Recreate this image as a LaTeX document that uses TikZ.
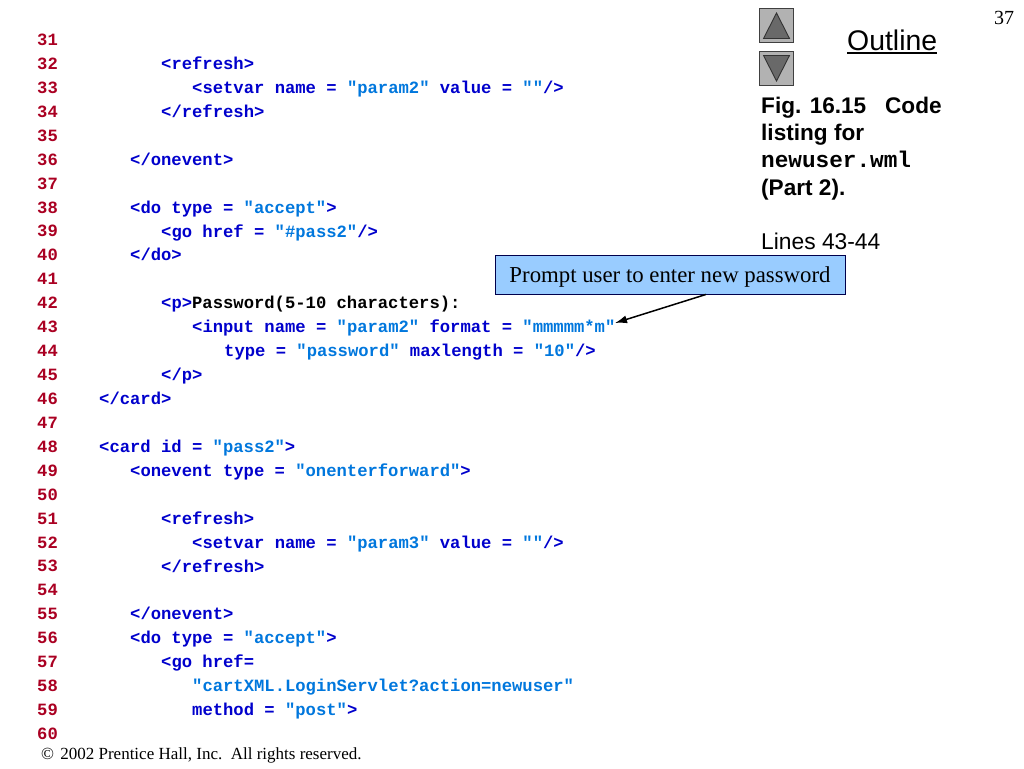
\documentclass[tikz,border=0pt]{standalone}
\usepackage{fontspec}
\setmainfont{Liberation Serif}
\newfontfamily\helv{Liberation Sans}
\newfontfamily\cour{Liberation Mono}
\usetikzlibrary{arrows.meta}
\definecolor{numred}{RGB}{170,0,34}
\definecolor{tagblue}{RGB}{0,0,204}
\definecolor{strblue}{RGB}{0,119,221}
\definecolor{boxblue}{RGB}{153,204,255}
\definecolor{btngray}{RGB}{178,178,178}
\definecolor{tridark}{RGB}{105,105,105}
\newcommand{\Tg}[1]{\textcolor{tagblue}{#1}}
\newcommand{\St}[1]{\textcolor{strblue}{#1}}
\tikzset{
  x=1pt,y=-1pt,
  num/.style={anchor=base west,inner sep=0pt,text=numred,font=\cour\bfseries\fontsize{17.2}{20}\selectfont},
  codetext/.style={anchor=base west,inner sep=0pt,text=black,font=\cour\bfseries\fontsize{17.2}{20}\selectfont},
  sidetext/.style={anchor=base west,inner sep=0pt,text=black,font=\helv\fontsize{23}{27}\selectfont},
  sidebold/.style={sidetext,font=\helv\bfseries\fontsize{22.6}{27}\selectfont},
  btn/.style={draw=black!75,fill=btngray,line width=0.8pt},
  tri/.style={draw=black!80,fill=tridark,line width=0.9pt,line join=miter},
}
\begin{document}
\begin{tikzpicture}
\useasboundingbox (0,0) rectangle (1024,768);
\fill[white] (0,0) rectangle (1024,768);
% line numbers
\foreach \n [evaluate=\n as \yy using {45.5+(\n-31)*23.93}] in {31,...,60}
  \node[num] (n\n) at (37,\yy) {\n};
% code
\node[codetext] (c32) at (161,69.4) {\Tg{<refresh>}};
\node[codetext] (c33) at (192,93.4) {\Tg{<setvar name =} \St{"param2"} \Tg{value =} \St{""}\Tg{/>}};
\node[codetext] (c34) at (161,117.3) {\Tg{</refresh>}};
\node[codetext] (c36) at (130,165.2) {\Tg{</onevent>}};
\node[codetext] (c38) at (130,213) {\Tg{<do type =} \St{"accept"}\Tg{>}};
\node[codetext] (c39) at (161,237) {\Tg{<go href =} \St{"\#pass2"}\Tg{/>}};
\node[codetext] (c40) at (130,260.9) {\Tg{</do>}};
\node[codetext] (c42) at (161,308.8) {\Tg{<p>}Password(5-10 characters):};
\node[codetext] (c43) at (192,332.7) {\Tg{<input name =} \St{"param2"} \Tg{format =} \St{"mmmmm*m"}};
\node[codetext] (c44) at (224,356.6) {\Tg{type =} \St{"password"} \Tg{maxlength =} \St{"10"}\Tg{/>}};
\node[codetext] (c45) at (161,380.6) {\Tg{</p>}};
\node[codetext] (c46) at (99,404.5) {\Tg{</card>}};
\node[codetext] (c48) at (99,452.4) {\Tg{<card id =} \St{"pass2"}\Tg{>}};
\node[codetext] (c49) at (130,476.3) {\Tg{<onevent type =} \St{"onenterforward"}\Tg{>}};
\node[codetext] (c51) at (161,524.2) {\Tg{<refresh>}};
\node[codetext] (c52) at (192,548.1) {\Tg{<setvar name =} \St{"param3"} \Tg{value =} \St{""}\Tg{/>}};
\node[codetext] (c53) at (161,572) {\Tg{</refresh>}};
\node[codetext] (c55) at (130,619.9) {\Tg{</onevent>}};
\node[codetext] (c56) at (130,643.8) {\Tg{<do type =} \St{"accept"}\Tg{>}};
\node[codetext] (c57) at (161,667.8) {\Tg{<go href=}};
\node[codetext] (c58) at (192,691.7) {\St{"cartXML.LoginServlet?action=newuser"}};
\node[codetext] (c59) at (192,715.6) {\Tg{method =} \St{"post"}\Tg{>}};
% page furniture
\node[anchor=base west,inner sep=0pt,font=\fontsize{20}{24}\selectfont] (page) at (994,25) {37};
\node[anchor=base west,inner sep=0pt,font=\fontsize{17}{20}\selectfont] (copy) at (41,759) {©\ \kern2pt 2002 Prentice Hall, Inc.\ \ All rights reserved.};
% buttons
\draw[btn] (759.5,8.5) rectangle (793.5,42.5);
\draw[tri] (776.5,13) -- (763.5,38.5) -- (789.5,38.5) -- cycle;
\draw[btn] (759.5,51) rectangle (793.5,85);
\draw[tri] (776.5,81) -- (763.5,55.5) -- (789.5,55.5) -- cycle;
% outline
\node[anchor=base west,inner sep=0pt,font=\helv\fontsize{28.4}{32}\selectfont] (outline) at (847,50) {Outline};
\draw[line width=1.3pt] (outline.base west |- 0,53) -- (outline.base east |- 0,53);
\node[sidebold] (f1) at (761,113) {Fig. 16.15\ \ \ Code};
\node[sidebold] (f2) at (761,140) {listing for};
\node[sidetext,font=\cour\bfseries\fontsize{22.7}{27}\selectfont] (f3) at (761,167) {newuser.wml};
\node[sidebold] (f4) at (761,195) {(Part 2).};
\node[sidetext,font=\helv\fontsize{22.8}{27}\selectfont] (f5) at (761,249) {Lines 43-44};
% callout
\node[draw=black!70!blue,fill=boxblue,line width=0.9pt,minimum width=350pt,minimum height=39pt,inner sep=0pt,text height=15pt,text depth=0pt,font=\fontsize{22.8}{26}\selectfont] (box) at (670,274.5) {Prompt user to enter new password};
\coordinate (tip) at (615,323);
\draw[line width=1.5pt,-{Latex[length=12pt,width=8pt]}] ([xshift=36pt]box.south) -- (tip);
\end{tikzpicture}
\end{document}
